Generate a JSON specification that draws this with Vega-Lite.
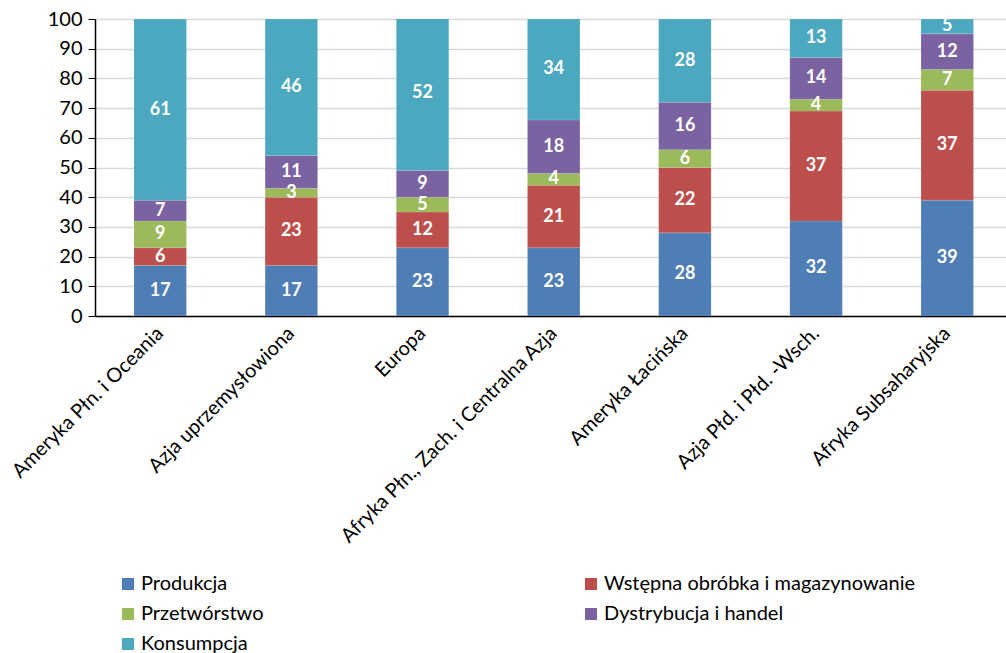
{
  "$schema": "https://vega.github.io/schema/vega-lite/v6.json",
  "autosize": "none",
  "padding": {"left": 95, "top": 19, "right": 0, "bottom": 337},
  "width": 911,
  "height": 297,
  "background": "white",
  "data": {
    "values": [
      {"region": "Ameryka Płn. i Oceania", "stage": "Produkcja", "order": 1, "value": 17},
      {"region": "Ameryka Płn. i Oceania", "stage": "Wstępna obróbka i magazynowanie", "order": 2, "value": 6},
      {"region": "Ameryka Płn. i Oceania", "stage": "Przetwórstwo", "order": 3, "value": 9},
      {"region": "Ameryka Płn. i Oceania", "stage": "Dystrybucja i handel", "order": 4, "value": 7},
      {"region": "Ameryka Płn. i Oceania", "stage": "Konsumpcja", "order": 5, "value": 61},
      {"region": "Azja uprzemysłowiona", "stage": "Produkcja", "order": 1, "value": 17},
      {"region": "Azja uprzemysłowiona", "stage": "Wstępna obróbka i magazynowanie", "order": 2, "value": 23},
      {"region": "Azja uprzemysłowiona", "stage": "Przetwórstwo", "order": 3, "value": 3},
      {"region": "Azja uprzemysłowiona", "stage": "Dystrybucja i handel", "order": 4, "value": 11},
      {"region": "Azja uprzemysłowiona", "stage": "Konsumpcja", "order": 5, "value": 46},
      {"region": "Europa", "stage": "Produkcja", "order": 1, "value": 23},
      {"region": "Europa", "stage": "Wstępna obróbka i magazynowanie", "order": 2, "value": 12},
      {"region": "Europa", "stage": "Przetwórstwo", "order": 3, "value": 5},
      {"region": "Europa", "stage": "Dystrybucja i handel", "order": 4, "value": 9},
      {"region": "Europa", "stage": "Konsumpcja", "order": 5, "value": 52},
      {"region": "Afryka Płn., Zach. i Centralna Azja", "stage": "Produkcja", "order": 1, "value": 23},
      {"region": "Afryka Płn., Zach. i Centralna Azja", "stage": "Wstępna obróbka i magazynowanie", "order": 2, "value": 21},
      {"region": "Afryka Płn., Zach. i Centralna Azja", "stage": "Przetwórstwo", "order": 3, "value": 4},
      {"region": "Afryka Płn., Zach. i Centralna Azja", "stage": "Dystrybucja i handel", "order": 4, "value": 18},
      {"region": "Afryka Płn., Zach. i Centralna Azja", "stage": "Konsumpcja", "order": 5, "value": 34},
      {"region": "Ameryka Łacińska", "stage": "Produkcja", "order": 1, "value": 28},
      {"region": "Ameryka Łacińska", "stage": "Wstępna obróbka i magazynowanie", "order": 2, "value": 22},
      {"region": "Ameryka Łacińska", "stage": "Przetwórstwo", "order": 3, "value": 6},
      {"region": "Ameryka Łacińska", "stage": "Dystrybucja i handel", "order": 4, "value": 16},
      {"region": "Ameryka Łacińska", "stage": "Konsumpcja", "order": 5, "value": 28},
      {"region": "Azja Płd. i Płd. -Wsch.", "stage": "Produkcja", "order": 1, "value": 32},
      {"region": "Azja Płd. i Płd. -Wsch.", "stage": "Wstępna obróbka i magazynowanie", "order": 2, "value": 37},
      {"region": "Azja Płd. i Płd. -Wsch.", "stage": "Przetwórstwo", "order": 3, "value": 4},
      {"region": "Azja Płd. i Płd. -Wsch.", "stage": "Dystrybucja i handel", "order": 4, "value": 14},
      {"region": "Azja Płd. i Płd. -Wsch.", "stage": "Konsumpcja", "order": 5, "value": 13},
      {"region": "Afryka Subsaharyjska", "stage": "Produkcja", "order": 1, "value": 39},
      {"region": "Afryka Subsaharyjska", "stage": "Wstępna obróbka i magazynowanie", "order": 2, "value": 37},
      {"region": "Afryka Subsaharyjska", "stage": "Przetwórstwo", "order": 3, "value": 7},
      {"region": "Afryka Subsaharyjska", "stage": "Dystrybucja i handel", "order": 4, "value": 12},
      {"region": "Afryka Subsaharyjska", "stage": "Konsumpcja", "order": 5, "value": 5}
    ]
  },
  "transform": [
    {"stack": "value", "groupby": ["region"], "sort": [{"field": "order", "order": "ascending"}], "as": ["v0", "v1"]},
    {"calculate": "(datum.v0 + datum.v1) / 2", "as": "vmid"}
  ],
  "encoding": {
    "x": {
      "field": "region",
      "type": "nominal",
      "sort": null,
      "title": null,
      "scale": {"paddingInner": 0.6, "paddingOuter": 0.2725, "align": 0.545},
      "axis": {
        "labelAngle": -45,
        "labelAlign": "right",
        "labelBaseline": "middle",
        "labelFont": "Lato",
        "labelFontSize": 20,
        "labelColor": "#000000",
        "labelPadding": 14,
        "labelLimit": 400,
        "labelOverlap": false,
        "ticks": false,
        "domainColor": "#000000",
        "domainWidth": 1.5,
        "grid": false
      }
    }
  },
  "layer": [
    {
      "mark": {"type": "bar", "clip": true, "stroke": "#ffffff", "strokeOpacity": 0.25, "strokeWidth": 0.5},
      "encoding": {
        "y": {
          "field": "v1",
          "type": "quantitative",
          "scale": {"domain": [0, 100], "nice": false},
          "title": null
        },
        "y2": {"field": "v0"},
        "color": {
          "field": "stage",
          "type": "nominal",
          "sort": ["Produkcja", "Wstępna obróbka i magazynowanie", "Przetwórstwo", "Dystrybucja i handel", "Konsumpcja"],
          "scale": {
            "domain": ["Produkcja", "Wstępna obróbka i magazynowanie", "Przetwórstwo", "Dystrybucja i handel", "Konsumpcja"],
            "range": ["#4F7DB5", "#BC4F4C", "#9BBA59", "#7B62A0", "#4BA8BF"]
          },
          "legend": {
            "title": null,
            "orient": "none",
            "direction": "horizontal",
            "legendX": 23,
            "legendY": 555,
            "columns": 2,
            "columnPadding": 317,
            "rowPadding": 10,
            "padding": 0,
            "symbolType": "square",
            "symbolSize": 144,
            "symbolStrokeWidth": 0,
            "labelFont": "Lato",
            "labelFontSize": 20,
            "labelColor": "#000000",
            "labelOffset": 3,
            "labelLimit": 500
          }
        }
      }
    },
    {
      "mark": {"type": "text", "color": "#ffffff", "font": "Lato", "fontSize": 18, "fontWeight": "bold", "baseline": "middle", "align": "center"},
      "encoding": {
        "y": {"field": "vmid", "type": "quantitative", "scale": {"domain": [0, 100], "nice": false}, "title": null},
        "text": {"field": "value", "type": "quantitative"}
      }
    }
  ],
  "config": {
    "view": {"stroke": null},
    "axisY": {
      "values": [0, 10, 20, 30, 40, 50, 60, 70, 80, 90, 100],
      "tickCount": 10,
      "labelOverlap": false,
      "labelFont": "Lato",
      "labelFontSize": 20,
      "labelColor": "#000000",
      "labelPadding": 6,
      "tickSize": 7,
      "tickColor": "#000000",
      "domainColor": "#000000",
      "domainWidth": 1.5,
      "gridColor": "#d9d9d9",
      "gridWidth": 1.5
    }
  }
}
